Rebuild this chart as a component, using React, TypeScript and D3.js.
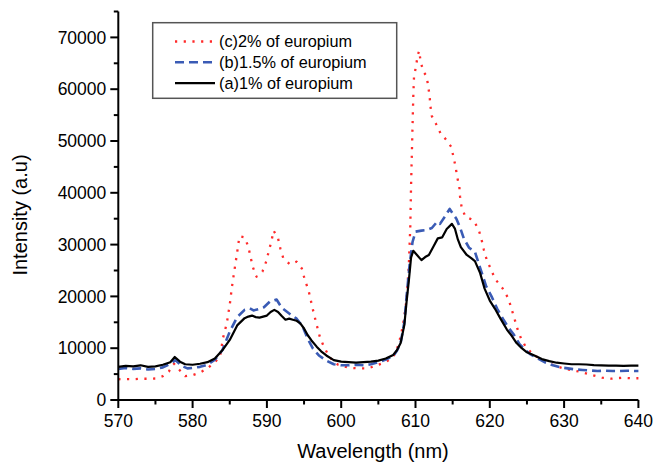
import React from "react";
import * as d3 from "d3";

const W = 654;
const H = 464;

const xTicks = [570, 580, 590, 600, 610, 620, 630, 640];
const xMinor = [575, 585, 595, 605, 615, 625, 635];
const yTicks = [0, 10000, 20000, 30000, 40000, 50000, 60000, 70000];
const yMinor = [5000, 15000, 25000, 35000, 45000, 55000, 65000, 75000];

const seriesNames = ["(c)2% of europium", "(b)1.5% of europium", "(a)1% of europium"];

const aX = [570, 571, 572, 573, 574, 575, 576, 577, 577.6, 578.3, 579, 580, 581, 582, 583, 584, 585, 586, 587, 587.5, 588, 588.5, 589, 589.5, 590, 590.5, 591, 591.5, 592, 592.5, 593, 593.5, 594, 594.5, 595, 595.5, 596, 596.7, 597.3, 598, 599, 600, 601, 602, 603, 604, 605, 606, 607, 607.5, 608, 608.5, 608.8, 609.1, 609.4, 609.7, 610.2, 610.8, 611.3, 611.8, 612.4, 613, 613.6, 614.2, 614.9, 615.3, 615.7, 616.1, 616.9, 617.5, 618, 618.7, 619.3, 620, 620.7, 621.4, 622.3, 623, 623.6, 624.3, 625, 626, 627, 628, 629, 630, 631, 632, 633, 634, 635, 636, 637, 638, 639, 640];
const aY = [6400, 6600, 6500, 6700, 6400, 6500, 6800, 7300, 8300, 7400, 6900, 6800, 7000, 7300, 8000, 9600, 11600, 14400, 15800, 16100, 16300, 16000, 15900, 16100, 16300, 17000, 17400, 17000, 16200, 15500, 15700, 15500, 15300, 14800, 13800, 12500, 11500, 10300, 9400, 8600, 7700, 7400, 7300, 7200, 7300, 7400, 7600, 8000, 8700, 9600, 11000, 14500, 19000, 23000, 27500, 28800, 28000, 27000, 27600, 28000, 29600, 31200, 31400, 33000, 34000, 33100, 31000, 29500, 28000, 27400, 26800, 24500, 21500, 19200, 17600, 15800, 13600, 12300, 11000, 10000, 9200, 8600, 7900, 7500, 7200, 7050, 6900, 6900, 6850, 6750, 6700, 6650, 6650, 6600, 6650, 6650];

const bX = [570, 571, 572, 573, 574, 575, 576, 577, 577.7, 578.5, 579.3, 580, 581, 582, 583, 584, 585, 586, 587, 587.7, 588.2, 589, 589.6, 590.4, 591.3, 592, 593, 594, 594.8, 595.5, 596.2, 597, 598, 599, 600, 601, 602, 603, 604, 605, 606, 607, 607.5, 608, 608.5, 608.8, 609.2, 609.6, 610, 610.8, 611.5, 612.2, 612.9, 613.3, 614, 614.6, 615, 615.5, 616, 616.5, 617.2, 618, 618.7, 619.5, 620.3, 621, 621.8, 622.5, 623.2, 624, 624.8, 625.5, 626.5, 627.5, 628.5, 629.5, 630.5, 631.5, 632.5, 633.5, 634.5, 635.5, 636.5, 637.5, 638.5, 639.5, 640];
const bY = [6000, 6200, 6000, 6100, 5900, 6000, 6300, 7000, 7700, 6600, 6100, 6200, 6400, 6800, 7800, 9600, 13200, 16000, 17400, 17700, 17300, 17600, 17900, 19000, 19400, 17800, 16700, 15700, 14200, 11800, 9900, 8600, 7600, 6900, 6700, 6700, 6800, 6700, 6900, 7300, 7800, 8500, 9500, 11000, 15000, 20000, 26000, 30500, 32500, 32700, 32800, 33200, 34400, 34000, 35500, 36900, 36000, 35000, 33300, 31200, 29400, 28600, 25500, 22000, 19800, 17600, 15600, 14000, 12700, 10800, 9600, 8800, 8000, 7200, 6700, 6300, 6100, 5900, 5800, 5700, 5600, 5650, 5600, 5600, 5650, 5600, 5600];

const cX = [570, 571, 572, 573, 574, 575, 576, 576.8, 577.5, 578.1, 579, 580, 581, 582, 583, 583.7, 584.1, 584.6, 585, 585.3, 585.7, 586, 586.3, 587, 587.5, 587.8, 588.1, 588.6, 589.4, 589.9, 590.3, 590.6, 590.9, 591.5, 591.8, 592.2, 593.1, 594, 594.7, 595.1, 595.6, 595.9, 596.2, 596.7, 597.1, 597.6, 598.3, 599, 599.6, 601, 602.3, 603.6, 604.8, 606.1, 607, 607.7, 608.1, 608.5, 608.8, 609.1, 609.3, 609.4, 609.5, 609.6, 609.7, 609.8, 610.1, 610.3, 610.5, 610.7, 611.1, 611.5, 611.7, 611.9, 612, 612.2, 612.8, 613.4, 614.1, 614.8, 615.1, 615.4, 615.6, 615.9, 616, 616.2, 616.7, 617.8, 618.5, 618.9, 619.2, 619.6, 620.2, 620.7, 621.7, 622.5, 622.9, 623.3, 623.7, 624.2, 624.9, 625.9, 627.2, 628.5, 629.9, 632.1, 633.7, 635.1, 636.4, 637.8, 638.9, 640];
const cY = [4000, 4050, 4000, 4100, 4100, 4150, 4600, 5500, 7000, 6000, 4600, 4800, 5300, 6100, 7300, 8400, 12000, 14800, 18400, 21900, 25700, 28500, 31600, 31400, 29600, 27600, 25700, 23800, 24800, 26700, 29000, 30600, 32700, 31200, 29300, 27400, 26200, 26700, 25400, 23200, 21200, 19300, 17400, 14500, 12300, 10500, 8600, 7300, 6800, 6240, 6100, 6100, 6700, 7400, 8300, 10600, 12900, 16100, 19500, 26000, 33500, 41200, 47000, 52800, 58500, 62400, 64700, 66600, 67400, 65200, 63300, 62500, 60600, 58700, 56800, 54800, 53200, 51400, 50300, 48900, 47000, 45000, 43100, 41200, 39200, 37300, 35400, 34700, 32900, 30900, 29000, 27000, 25100, 23400, 21600, 19600, 17700, 15800, 13800, 11900, 10100, 8700, 7700, 6760, 6100, 5460, 4830, 4310, 4120, 4300, 4200, 4200];

const FONT = "'Liberation Sans', Arial, Helvetica, sans-serif";

export default function App() {
  const x = d3.scaleLinear().domain([570, 640]).range([118.3, 638.4]);
  const y = d3.scaleLinear().domain([0, 75000]).range([400, 11.5]);

  const line = d3
    .line<[number, number]>()
    .x((d) => x(d[0]))
    .y((d) => y(d[1]));

  const zip = (xs: number[], ys: number[]) => xs.map((v, i) => [v, ys[i]] as [number, number]);

  const series = [
    { name: seriesNames[0], data: zip(cX, cY), color: "#ff2a2a", dash: "2.2 6.5", width: 2.3, cap: "butt" },
    { name: seriesNames[1], data: zip(bX, bY), color: "#3a5bb5", dash: "9 5", width: 2.6, cap: "butt" },
    { name: seriesNames[2], data: zip(aX, aY), color: "#000000", dash: "none", width: 2.2, cap: "butt" },
  ];

  const x0 = x(570);
  const y0 = y(0);

  return (
    <svg width={W} height={H} style={{ position: "absolute", left: 0, top: 0, background: "#fff" }}>
      <rect x={0} y={0} width={W} height={H} fill="#fff" />
      {series.map((s) => (
        <path
          key={s.name}
          d={line(s.data) || ""}
          fill="none"
          stroke={s.color}
          strokeWidth={s.width}
          strokeDasharray={s.dash}
          strokeLinejoin="round"
        />
      ))}
      {/* axes */}
      <line x1={x0} x2={x0} y1={y(75000)} y2={y0 + 1} stroke="#000" strokeWidth={2} />
      <line x1={x0 - 1} x2={x(640)} y1={y0} y2={y0} stroke="#000" strokeWidth={2} />
      {yTicks.map((t) => (
        <g key={"y" + t}>
          <line x1={x0 - 8} x2={x0} y1={y(t)} y2={y(t)} stroke="#000" strokeWidth={2} />
          <text x={x0 - 12} y={y(t)} dy="0.35em" textAnchor="end" fontFamily={FONT} fontSize={17.5} fill="#000">
            {t}
          </text>
        </g>
      ))}
      {yMinor.map((t) => (
        <line key={"ym" + t} x1={x0 - 4.5} x2={x0} y1={y(t)} y2={y(t)} stroke="#000" strokeWidth={2} />
      ))}
      {xTicks.map((t) => (
        <g key={"x" + t}>
          <line x1={x(t)} x2={x(t)} y1={y0} y2={y0 + 8} stroke="#000" strokeWidth={2} />
          <text x={x(t)} y={y0 + 27} textAnchor="middle" fontFamily={FONT} fontSize={17.5} fill="#000">
            {t}
          </text>
        </g>
      ))}
      {xMinor.map((t) => (
        <line key={"xm" + t} x1={x(t)} x2={x(t)} y1={y0} y2={y0 + 4.5} stroke="#000" strokeWidth={2} />
      ))}
      <text x={373} y={458} textAnchor="middle" fontFamily={FONT} fontSize={20} fill="#000">
        Wavelength (nm)
      </text>
      <text
        transform={`translate(27,215) rotate(-90)`}
        textAnchor="middle"
        fontFamily={FONT}
        fontSize={20}
        fill="#000"
      >
        Intensity (a.u)
      </text>
      {/* legend */}
      <rect x={152.7} y={22.7} width={244} height={75.6} fill="#fff" stroke="#555" strokeWidth={1.5} />
      {series.map((s, i) => {
        const ly = 41.5 + i * 20.8;
        return (
          <g key={"lg" + i}>
            <line
              x1={175}
              x2={215}
              y1={ly}
              y2={ly}
              stroke={s.color}
              strokeWidth={s.width}
              strokeDasharray={s.dash}
            />
            <text x={219} y={ly} dy="0.36em" fontFamily={FONT} fontSize={16.3} fill="#000">
              {s.name}
            </text>
          </g>
        );
      })}
    </svg>
  );
}
